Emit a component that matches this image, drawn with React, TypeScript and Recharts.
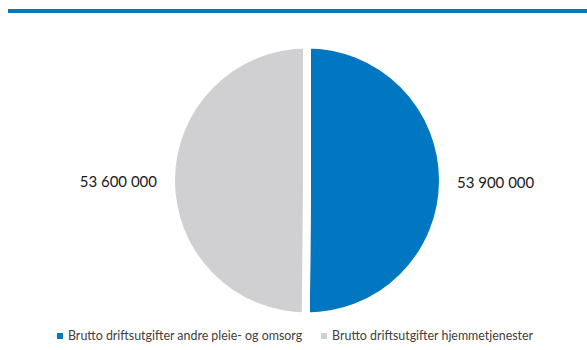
import React from "react";
import { PieChart, Pie, Cell, Legend } from "recharts";

const categories = [
  "Brutto driftsutgifter andre pleie- og omsorg",
  "Brutto driftsutgifter hjemmetjenester",
];
const values = [53900000, 53600000];
const colors = ["#0077C0", "#D0D0D2"];

const data = categories.map((name, i) => ({ name, value: values[i] }));

const fmt = (v: number) => v.toLocaleString("en-US").replace(/,/g, " ");

const RADIAN = Math.PI / 180;

function renderLabel(props: any) {
  const { cx, cy, midAngle, outerRadius, value } = props;
  const cos = Math.cos(-midAngle * RADIAN);
  const x = cx + (outerRadius + 14) * cos;
  const y = cy + (outerRadius + 14) * Math.sin(-midAngle * RADIAN);
  return (
    <text
      x={x}
      y={y + 1}
      fill="#1a1a1a"
      fontSize={15}
      fontFamily="Lato, sans-serif"
      textAnchor={cos >= 0 ? "start" : "end"}
      dominantBaseline="central"
    >
      {fmt(value)}
    </text>
  );
}

function LegendContent() {
  return (
    <div
      style={{
        display: "flex",
        alignItems: "center",
        fontFamily: "Lato, sans-serif",
        fontSize: 12.4,
        color: "#404040",
        whiteSpace: "nowrap",
      }}
    >
      {categories.map((c, i) => (
        <span
          key={c}
          style={{
            display: "inline-flex",
            alignItems: "center",
            marginRight: i === 0 ? 19 : 0,
          }}
        >
          <span
            style={{
              display: "inline-block",
              width: 6,
              height: 6,
              background: colors[i],
              marginRight: 5,
            }}
          />
          {c}
        </span>
      ))}
    </div>
  );
}

export default function App() {
  return (
    <div
      style={{
        position: "absolute",
        left: 0,
        top: 0,
        width: 587,
        height: 350,
        overflow: "hidden",
        background: "#fff",
      }}
    >
      <div
        style={{
          position: "absolute",
          left: 8,
          top: 9,
          width: 579,
          height: 4,
          background: "#0077C0",
        }}
      />
      <div style={{ position: "absolute", left: 0, top: 0 }}>
        <PieChart
          width={587}
          height={350}
          margin={{ top: 0, right: 0, bottom: 0, left: 0 }}
        >
          <Pie
            data={data}
            dataKey="value"
            nameKey="name"
            cx={307}
            cy={180.5}
            outerRadius={136}
            startAngle={90}
            endAngle={-270}
            stroke="#fff"
            strokeWidth={8}
            label={renderLabel}
            labelLine={false}
            isAnimationActive={false}
          >
            {data.map((d, i) => (
              <Cell key={d.name} fill={colors[i]} />
            ))}
          </Pie>
          <Legend
            content={<LegendContent />}
            wrapperStyle={{
              position: "absolute",
              left: 57,
              top: 328,
              width: "auto",
              height: 16,
            }}
          />
        </PieChart>
      </div>
    </div>
  );
}
